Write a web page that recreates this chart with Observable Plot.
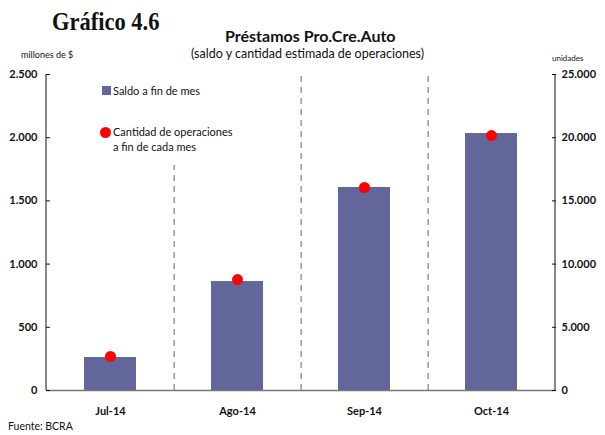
<!DOCTYPE html>
<html><head><meta charset="utf-8">
<script src="https://cdn.jsdelivr.net/npm/d3@7"></script>
<script src="https://cdn.jsdelivr.net/npm/@observablehq/plot@0.6"></script>
<style>
body{margin:0;background:#fff;}
#wrap{position:relative;width:605px;height:435px;overflow:hidden;font-family:Lato,"Open Sans",sans-serif;color:#111;}
.t{position:absolute;white-space:nowrap;transform-origin:left top;}
</style></head>
<body><div id="wrap"></div>
<script>
const months = ["Jul-14","Ago-14","Sep-14","Oct-14"];
const saldo = [261, 862, 1606, 2033];          // millones de $
const operaciones = [2690, 8780, 16060, 20170]; // unidades
const leftTicks = [0,500,1000,1500,2000,2500];
const rightTicks = [0,5000,10000,15000,20000,25000];
const ratio = 10; // right axis = left axis * 10

const loc = d3.formatLocale({decimal:",",thousands:".",grouping:[3],currency:["$",""]});
const fmt = loc.format(",d");

const data = months.map((m,i)=>({m, saldo:saldo[i], ops:operaciones[i]}));
const boundaries = months.slice(0,-1).map((m,i)=>({m, top: i===0 ? 1780 : 2500}));

const W=605, ML=46, MR=50;
const step = (W-ML-MR)/months.length;

const plot = Plot.plot({
  width:W, height:435,
  marginLeft:ML, marginRight:MR, marginTop:74, marginBottom:45,
  style:{fontFamily:"Lato, 'Open Sans', sans-serif", fontSize:"11px", color:"#111", background:"transparent"},
  x:{domain:months, paddingInner:0.59, paddingOuter:0.295, axis:null},
  y:{domain:[0,2500], axis:null},
  marks:[
    Plot.barY(data,{x:"m", y:"saldo", fill:"#63669a"}),
    Plot.ruleX(boundaries,{x:"m", y1:0, y2:"top", dx:step/2, stroke:"#666", strokeDasharray:"6 5", strokeWidth:1}),
    Plot.ruleY([0],{stroke:"#777", strokeWidth:1.5}),
    Plot.axisX({domain:months, tickSize:0, fontWeight:"bold", fontSize:11, tickPadding:17, label:null}),
    Plot.axisY({anchor:"left", ticks:leftTicks, tickFormat:fmt, tickSize:-4, tickPadding:13, fontWeight:"bold", fontSize:11, stroke:"#111", label:null}),
    Plot.axisY({anchor:"right", ticks:leftTicks, tickFormat:d=>fmt(d*ratio), tickSize:-4, tickPadding:10, fontWeight:"bold", fontSize:11, stroke:"#111", label:null}),
    Plot.dot(data,{x:"m", y:d=>d.ops/ratio, r:5.5, fill:"#ff0000"})
  ]
});
const wrap = document.getElementById("wrap");
wrap.appendChild(plot);

const svg = d3.select(plot);
svg.append("line").attr("x1",ML).attr("x2",ML).attr("y1",74).attr("y2",390).attr("stroke","#111");
svg.append("line").attr("x1",W-MR).attr("x2",W-MR).attr("y1",74).attr("y2",390).attr("stroke","#111");

const texts = [
  {s:"Gráfico 4.6", x:52, y:8, css:"font-family:'Liberation Serif',serif;font-weight:bold;font-size:25px;transform:scaleX(0.9);"},
  {s:"Préstamos Pro.Cre.Auto", x:225, y:26, css:"font-weight:bold;font-size:16px;"},
  {s:"(saldo y cantidad estimada de operaciones)", x:191, y:46, css:"font-size:12.5px;"},
  {s:"millones de $", x:21, y:49, css:"font-size:9px;"},
  {s:"unidades", x:552, y:53, css:"font-size:8px;"},
  {s:"Saldo a fin de mes", x:113, y:84, css:"font-size:11px;"},
  {s:"Cantidad de operaciones", x:113, y:125, css:"font-size:11px;"},
  {s:"a fin de cada mes", x:113, y:140, css:"font-size:11px;"},
  {s:"Fuente: BCRA", x:8, y:420, css:"font-size:10.5px;"}
];
for (const t of texts){
  const d=document.createElement("div");d.className="t";d.textContent=t.s;
  d.style.cssText=`left:${t.x}px;top:${t.y}px;${t.css}`;wrap.appendChild(d);
}
const sq=document.createElement("div");sq.style.cssText="position:absolute;left:102px;top:86px;width:9px;height:9px;background:#63669a;";wrap.appendChild(sq);
const dt=document.createElement("div");dt.style.cssText="position:absolute;left:100px;top:127px;width:11px;height:11px;border-radius:50%;background:#ff0000;";wrap.appendChild(dt);
</script></body></html>
